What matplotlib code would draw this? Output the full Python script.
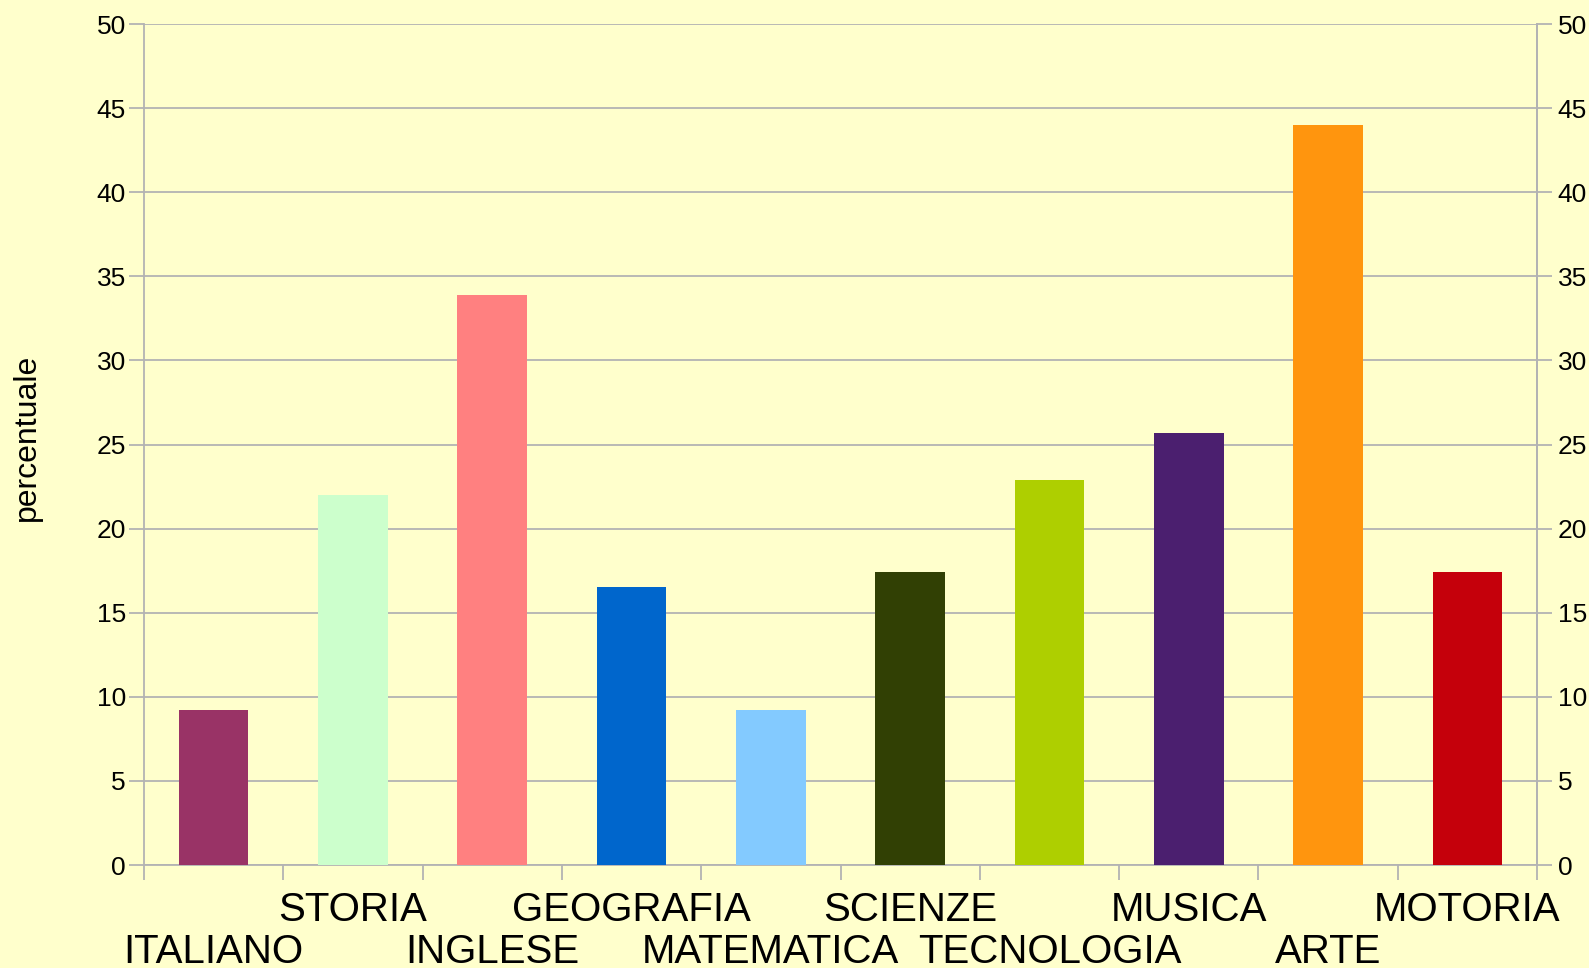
import numpy as np
import matplotlib.pyplot as plt

plt.rcParams['font.family'] = ['Liberation Sans', 'DejaVu Sans']

# dati
materie = ['ITALIANO', 'STORIA', 'INGLESE', 'GEOGRAFIA', 'MATEMATICA',
           'SCIENZE', 'TECNOLOGIA', 'MUSICA', 'ARTE', 'MOTORIA']
valori = [9.2, 22.0, 33.9, 16.5, 9.2, 17.4, 22.9, 25.7, 44.0, 17.4]
colori = ['#993366', '#CCFFCC', '#FF8080', '#0066CC', '#83CAFF',
          '#314004', '#AECF00', '#4B1F6F', '#FF950E', '#C5000B']
yticks = [0, 5, 10, 15, 20, 25, 30, 35, 40, 45, 50]

sfondo = '#FFFFCC'
grigio = '#B3B3B3'

fig = plt.figure(figsize=(15.89, 9.68), dpi=100, facecolor=sfondo)
ax = fig.add_axes([0.0906, 0.1064, 0.8767, 0.8688])
ax.set_facecolor(sfondo)

x = np.arange(len(materie)) + 0.5
ax.bar(x, valori, width=0.5, color=colori, zorder=3)

ax.set_xlim(0, len(materie))
ax.set_ylim(0, 50)
ax.set_yticks(yticks)
ax.yaxis.grid(True, color=grigio, linewidth=1.3, zorder=0)
ax.set_xticks(np.arange(len(materie) + 1))
ax.set_xticklabels([])
ax.tick_params(axis='x', length=11, width=1.3, color=grigio, direction='out')
ax.tick_params(axis='y', length=11, width=1.3, color=grigio, labelsize=19, pad=2)

ax.spines['top'].set_visible(False)
for s in ['left', 'right', 'bottom']:
    ax.spines[s].set_color(grigio)
    ax.spines[s].set_linewidth(1.3)

ax2 = ax.twinx()
ax2.set_ylim(0, 50)
ax2.set_yticks(yticks)
ax2.tick_params(axis='y', length=11, width=1.3, color=grigio, labelsize=19, pad=4)
for s in ['top', 'left', 'bottom']:
    ax2.spines[s].set_visible(False)
ax2.spines['right'].set_color(grigio)
ax2.spines['right'].set_linewidth(1.3)

# etichette sfalsate su due righe
trans = ax.get_xaxis_transform()
for i, nome in enumerate(materie):
    ypos = -0.1165 if i % 2 == 0 else -0.0666
    ax.text(x[i], ypos, nome, transform=trans, ha='center', va='baseline',
            fontsize=29)

ax.set_ylabel('percentuale', fontsize=23)
ax.yaxis.set_label_coords(-0.0732, 0.508)

fig.savefig('out.png', dpi=100, facecolor=sfondo)
